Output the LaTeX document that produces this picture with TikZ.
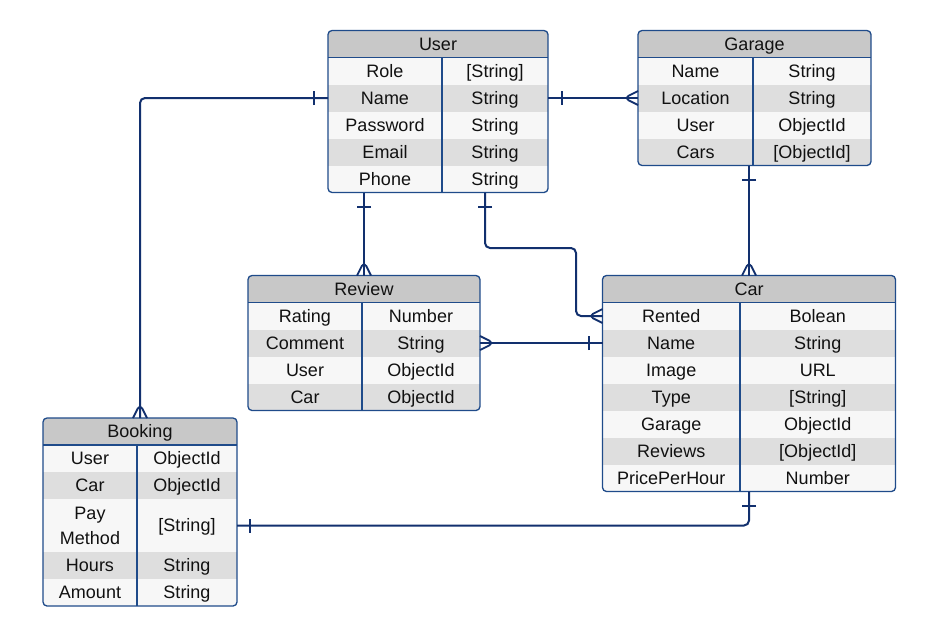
\documentclass[tikz,border=0pt]{standalone}
\usepackage{fontspec}
\setmainfont{Liberation Sans}
\usetikzlibrary{calc,decorations.markings}

\definecolor{edge}{HTML}{1F4B8A}
\definecolor{link}{HTML}{12306E}
\definecolor{headgray}{HTML}{C8C8C8}
\definecolor{rowlight}{HTML}{F7F7F7}
\definecolor{rowdark}{HTML}{DEDEDE}
\definecolor{ink}{HTML}{111111}

\tikzset{
  cell/.style={inner sep=0pt, outer sep=0pt, text=ink, align=center,
    font=\fontsize{18}{25}\selectfont},
  fit row/.code={\ifnum#1=27 \pgfkeysalso{text height=12.9pt, text depth=0pt}\fi},
  frame/.style={draw=edge, line width=1.3pt, rounded corners=4pt, inner sep=0pt, outer sep=0pt},
  rel/.style={draw=link, line width=2pt, rounded corners=5pt},
  one start/.style={postaction={decorate, decoration={markings,
    mark=at position 14pt with {\draw[link, line width=2pt] (0,-7)--(0,7);}}}},
  one end/.style={postaction={decorate, decoration={markings,
    mark=at position -13pt with {\draw[link, line width=2pt] (0,-7)--(0,7);}}}},
  many end/.style={postaction={decorate, decoration={markings,
    mark=at position -14pt with {\draw[link, line width=1.8pt] (14,7)--(0,0)--(14,-7);}}}}
}

% #1 name, #2 left, #3 top, #4 width, #5 height, #6 divider, #7 title, #8 rows
\newcommand\ertable[8]{%
  \begin{scope}
    \clip[rounded corners=4pt] (#2,#3) rectangle (#2+#4,#3+#5);
    \node[cell, fit row=27, fill=headgray, minimum width=#4pt, minimum height=27pt] (#1-head) at (#2+#4/2,#3+13.5) {#7};
    \pgfmathsetmacro\rowtop{#3+27}
    \xdef\rowtop{\rowtop}
    \foreach \fld/\typ/\rh [count=\i] in {#8} {
      \ifodd\i\def\rowfill{rowlight}\else\def\rowfill{rowdark}\fi
      \pgfmathsetmacro\rowbot{\rowtop+\rh}
      \node[cell, fill=\rowfill, minimum width=#4pt, minimum height=\rh pt] (#1-\i) at (#2+#4/2,\rowtop+\rh/2) {};
      \node[cell, fit row=\rh] at (#2+#6/2,\rowtop+\rh/2) {\fld};
      \node[cell, fit row=27] at (#2+#6/2+#4/2,\rowtop+\rh/2) {\typ};
      \xdef\rowtop{\rowbot}
    }
  \end{scope}
  \node[frame, minimum width=#4pt, minimum height=#5pt] (#1) at (#2+#4/2,#3+#5/2) {};
  \draw[edge, line width=1.1pt] (#1-head.south west) -- (#1-head.south east);
  \draw[edge, line width=1.1pt] (#2+#6,#3+27) -- (#2+#6,#3+#5);
}

\begin{document}
\begin{tikzpicture}[x=1pt, y=-1pt]
  \useasboundingbox[fill=white] (0,0) rectangle (940,635);

  \ertable{user}{328}{30.5}{220}{162}{114}{User}
    {Role/{[String]}/27, Name/String/27, Password/String/27, Email/String/27, Phone/String/27}
  \ertable{garage}{638}{30.5}{233}{135}{115}{Garage}
    {Name/String/27, Location/String/27, User/ObjectId/27, Cars/{[ObjectId]}/27}
  \ertable{review}{248}{275.5}{232}{135}{114}{Review}
    {Rating/Number/27, Comment/String/27, User/ObjectId/27, Car/ObjectId/27}
  \ertable{car}{602.5}{275.5}{293}{216}{137.5}{Car}
    {Rented/Bolean/27, Name/String/27, Image/URL/27, Type/{[String]}/27,
     Garage/ObjectId/27, Reviews/{[ObjectId]}/27, PricePerHour/Number/27}
  \ertable{booking}{43}{418}{194}{188}{94}{Booking}
    {User/ObjectId/27, Car/ObjectId/27, {Pay\\Method}/{[String]}/53, Hours/String/27, Amount/String/27}

  % relations
  \coordinate (turn) at (576,248);
  \draw[rel, one start, many end] (user-2.west) -| (booking.north);
  \draw[rel, one start, many end] (user-2.east) -- (garage-2.west);
  \draw[rel, one start, many end] (review.north |- user.south) -- (review.north);
  \draw[rel, one start, many end] ([xshift=47pt]user.south) |- (turn) |- (car-1.west);
  \draw[rel, one start, many end] (car.north |- garage.south) -- (car.north);
  \draw[rel, one start, many end] (car-2.west) -- (review-2.east);
  \draw[rel, one start, one end] (car.south) |- (booking-3.east);
\end{tikzpicture}
\end{document}
